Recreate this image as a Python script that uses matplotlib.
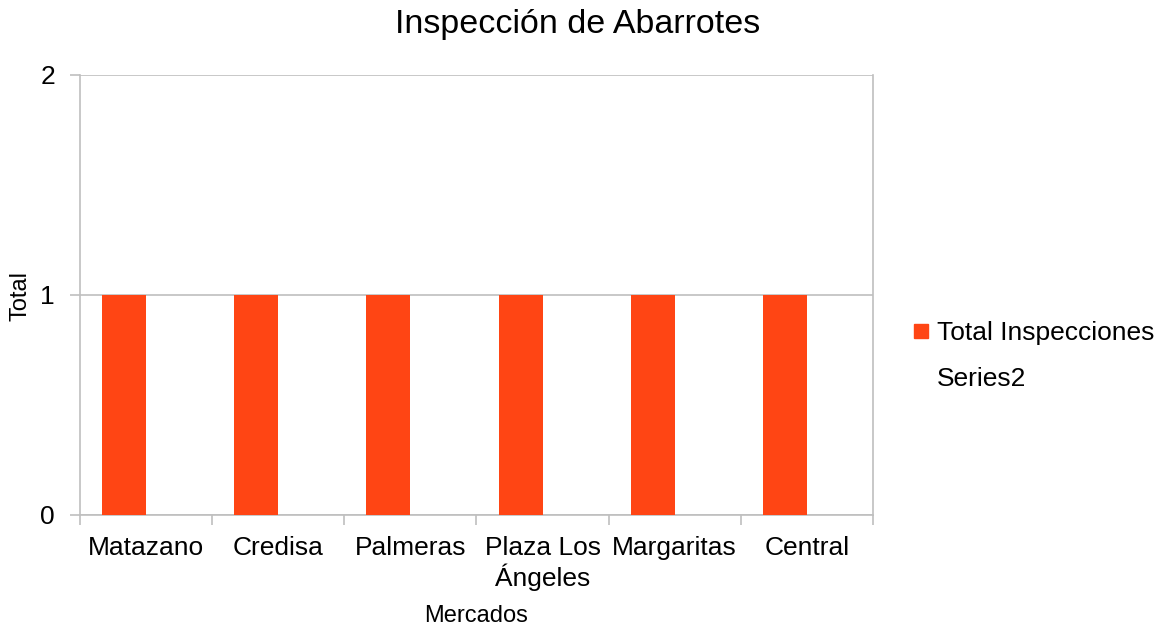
import matplotlib
matplotlib.use("Agg")
import matplotlib.pyplot as plt
from matplotlib.lines import Line2D
import numpy as np

plt.rcParams['font.family'] = ['Liberation Sans', 'DejaVu Sans']

categories = ["Matazano", "Credisa", "Palmeras", "Plaza Los\nÁngeles", "Margaritas", "Central"]
total_inspecciones = [1, 1, 1, 1, 1, 1]
series2 = [np.nan, np.nan, np.nan, np.nan, np.nan, np.nan]
y_ticks = [0, 1, 2]

bar_color = "#FF4514"
grid_color = "#BFBFBF"

fig = plt.figure(figsize=(11.64, 6.28), dpi=100)
ax = fig.add_axes([80/1164, 1-515/628, (873-80)/1164, (515-75)/628])

x = np.arange(len(categories))
w = 1/3
ax.bar(x - w/2, total_inspecciones, width=w, color=bar_color, zorder=3, label="Total Inspecciones")
ax.bar(x + w/2, series2, width=w, color="none", zorder=3, label="Series2")

ax.set_xlim(-0.5, len(categories) - 0.5)
ax.set_ylim(0, 2)
ax.set_yticks(y_ticks)
ax.set_yticklabels([str(v) for v in y_ticks], fontsize=19)
ax.yaxis.grid(True, color=grid_color, linewidth=1.2, zorder=0)

ax.set_xticks(x)
ax.set_xticklabels(categories, fontsize=19, linespacing=1.15)
ax.tick_params(axis='x', length=0, pad=15)
ax.set_xticks(np.arange(-0.5, len(categories)), minor=True)
ax.tick_params(axis='x', which='minor', length=7, color=grid_color, width=1.2)
ax.tick_params(axis='y', length=7, color=grid_color, width=1.2, pad=11)

for side in ['top', 'right']:
    ax.spines[side].set_visible(False)
for side in ['left', 'bottom']:
    ax.spines[side].set_color(grid_color)
    ax.spines[side].set_linewidth(1.2)
ax.plot([1, 1], [0, 1], transform=ax.transAxes, color=grid_color, lw=1.2, clip_on=False, zorder=2)

fig.text(578/1164, 1-24/628, "Inspección de Abarrotes", fontsize=24.5, ha='center', va='center')
fig.text(476/1164, 1-616/628, "Mercados", fontsize=17, ha='center', va='center')
fig.text(21/1164, 1-296/628, "Total", fontsize=17, ha='center', va='center', rotation=90)

handles = [Line2D([], [], marker='s', color=bar_color, linestyle='none', markersize=10),
           Line2D([], [], marker='s', color='none', linestyle='none', markersize=10)]
fig.legend(handles, ["Total Inspecciones", "Series2"], loc='center left',
           bbox_to_anchor=(900/1164, 1-356/628), frameon=False, fontsize=19,
           handlelength=0.6, handletextpad=0.3, labelspacing=0.85, borderpad=0)

fig.savefig("out.png", dpi=100)
